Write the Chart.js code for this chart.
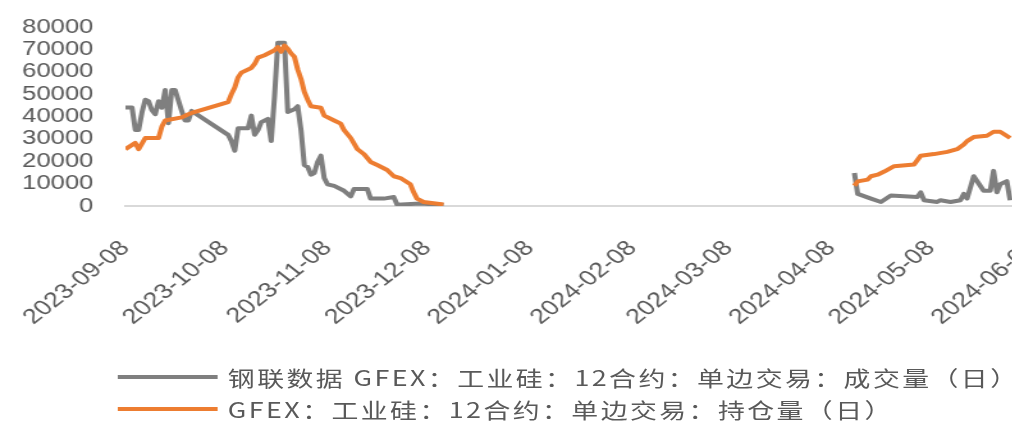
<!DOCTYPE html>
<html>
<head>
<meta charset="utf-8">
<script src="https://cdn.jsdelivr.net/npm/chart.js@4.4.1/dist/chart.umd.min.js"></script>
<style>
  html, body { margin: 0; padding: 0; background: #fff; }
  body { width: 1012px; height: 421px; overflow: hidden; position: relative; }
  #stage { position: absolute; left: 0; top: 0; width: 848px; height: 421px;
           transform: scaleX(1.28); transform-origin: 0 0; }
  #chart { position: absolute; left: 0; top: 0; }
  #legend { position: absolute; left: 92px; top: 361px;
            font-family: "Noto Sans CJK SC", sans-serif; font-size: 21px; letter-spacing: 1.9px; color: #595959; }
  .row { display: flex; align-items: center; height: 32px; white-space: nowrap; }
  .swatch { width: 78px; height: 4px; margin-right: 8px; }
</style>
</head>
<body>
<div id="stage">
  <canvas id="chart" width="848" height="336"></canvas>
  <div id="legend"></div>
</div>
<script>
// Series names
const seriesNames = [
  '钢联数据 GFEX：工业硅：12合约：单边交易：成交量（日）',
  'GFEX：工业硅：12合约：单边交易：持仓量（日）'
];
const seriesColors = ['#7f7f7f', '#ed7d31'];

// Date-axis labels
const tickLabels = ['2023-09-08', '2023-10-08', '2023-11-08', '2023-12-08', '2024-01-08',
                    '2024-02-08', '2024-03-08', '2024-04-08', '2024-05-08', '2024-06-08'];
const axisStart = '2023-09-08';
const axisEnd = '2024-06-16';

// Value-axis labels
const yTicks = [0, 10000, 20000, 30000, 40000, 50000, 60000, 70000, 80000];

// Daily volume (成交量)
const volumeDates = [
  '2023-09-08', '2023-09-10', '2023-09-11', '2023-09-12', '2023-09-13', '2023-09-14', '2023-09-15',
  '2023-09-16', '2023-09-17', '2023-09-18', '2023-09-19', '2023-09-20', '2023-09-21', '2023-09-22',
  '2023-09-23', '2023-09-25', '2023-09-26', '2023-09-27', '2023-09-28', '2023-10-09', '2023-10-10',
  '2023-10-11', '2023-10-12', '2023-10-15', '2023-10-16', '2023-10-17', '2023-10-18', '2023-10-19',
  '2023-10-21', '2023-10-22', '2023-10-23', '2023-10-24', '2023-10-26', '2023-10-27', '2023-10-29',
  '2023-10-30', '2023-10-31', '2023-11-01', '2023-11-02', '2023-11-03', '2023-11-04', '2023-11-05',
  '2023-11-06', '2023-11-07', '2023-11-08', '2023-11-10', '2023-11-13', '2023-11-15', '2023-11-16',
  '2023-11-20', '2023-11-21', '2023-11-25', '2023-11-28', '2023-11-29', '2023-12-06', '2023-12-13',
  '2024-02-01',
  '2024-04-15', '2024-04-16', '2024-04-20', '2024-04-23', '2024-04-26', '2024-05-04', '2024-05-05',
  '2024-05-06', '2024-05-10', '2024-05-11', '2024-05-14', '2024-05-17', '2024-05-18', '2024-05-19',
  '2024-05-21', '2024-05-24', '2024-05-26', '2024-05-27', '2024-05-28', '2024-05-29', '2024-05-31',
  '2024-06-01'
];
const volumeValues = [
  44000, 44000, 34000, 34000, 41800, 47500, 46800,
  42800, 41000, 46800, 43900, 51800, 37000, 51800,
  51800, 42500, 38200, 38200, 42500, 31800, 29000,
  24700, 34700, 34700, 40400, 31800, 33900, 37500,
  38900, 29000, 48900, 73000, 73000, 42000, 43200,
  44600, 33900, 18300, 17500, 14000, 14700, 19700,
  22500, 12500, 9700, 9000, 6800, 4300, 7600,
  7600, 3300, 3300, 4000, 600, 1100, 500,
  null,
  14700, 5400, 3300, 1800, 4700, 4000, 6100,
  2600, 1800, 2600, 1800, 2600, 5400, 3300,
  13300, 6800, 6800, 15700, 6100, 9700, 11100,
  2600
];

// Daily open interest (持仓量)
const oiDates = [
  '2023-09-08', '2023-09-11', '2023-09-12', '2023-09-14', '2023-09-18', '2023-09-19', '2023-09-20',
  '2023-09-25', '2023-09-27', '2023-09-28', '2023-10-09', '2023-10-10', '2023-10-11', '2023-10-12',
  '2023-10-13', '2023-10-16', '2023-10-17', '2023-10-18', '2023-10-20', '2023-10-23', '2023-10-24',
  '2023-10-25', '2023-10-26', '2023-10-27', '2023-10-28', '2023-10-29', '2023-10-30', '2023-10-31',
  '2023-11-01', '2023-11-02', '2023-11-03', '2023-11-06', '2023-11-07', '2023-11-10', '2023-11-12',
  '2023-11-13', '2023-11-15', '2023-11-17', '2023-11-19', '2023-11-21', '2023-11-23', '2023-11-26',
  '2023-11-28', '2023-11-30', '2023-12-03', '2023-12-04', '2023-12-05', '2023-12-07', '2023-12-13',
  '2024-02-01',
  '2024-04-15', '2024-04-16', '2024-04-19', '2024-04-20', '2024-04-22', '2024-04-24', '2024-04-27',
  '2024-05-03', '2024-05-05', '2024-05-09', '2024-05-13', '2024-05-16', '2024-05-18', '2024-05-19',
  '2024-05-21', '2024-05-25', '2024-05-27', '2024-05-29', '2024-06-01'
];
const oiValues = [
  25400, 28200, 25400, 30400, 30400, 35500, 38200,
  39600, 41000, 41600, 46400, 50000, 53000, 57500,
  59600, 61700, 63500, 66300, 67400, 69600, 71000,
  68900, 71700, 70300, 68200, 66700, 61000, 56800,
  51000, 47500, 44600, 43900, 40400, 38200, 36800,
  33900, 30400, 25400, 23200, 19700, 18300, 16100,
  13300, 12500, 9700, 6100, 3300, 1800, 700,
  null,
  9000, 11000, 11800, 13300, 14000, 15400, 17800,
  18500, 22500, 23200, 24200, 25400, 27500, 29000,
  30800, 31400, 33200, 33200, 30400
];

// Day offset from the first axis date
function dayOf(s) {
  const [y, m, d] = s.split('-').map(Number);
  const [y0, m0, d0] = axisStart.split('-').map(Number);
  return Math.round((Date.UTC(y, m - 1, d) - Date.UTC(y0, m0 - 1, d0)) / 86400000);
}
const toPoints = (dates, vals) => dates.map((d, i) => ({ x: dayOf(d), y: vals[i] }));
const tickDays = tickLabels.map(dayOf);

const lineStyle = { borderWidth: 4, pointRadius: 0, tension: 0, borderJoinStyle: 'round', borderCapStyle: 'butt', spanGaps: false };

new Chart(document.getElementById('chart'), {
  type: 'line',
  data: {
    datasets: [
      Object.assign({ label: seriesNames[0], data: toPoints(volumeDates, volumeValues),
        borderColor: seriesColors[0], order: 1 }, lineStyle),
      Object.assign({ label: seriesNames[1], data: toPoints(oiDates, oiValues),
        borderColor: seriesColors[1], order: 0 }, lineStyle)
    ]
  },
  options: {
    responsive: false,
    animation: false,
    devicePixelRatio: 1,
    layout: { padding: { top: 19, right: 20, bottom: 0, left: 0 } },
    plugins: { legend: { display: false }, tooltip: { enabled: false } },
    scales: {
      x: {
        type: 'linear',
        min: 0,
        max: dayOf(axisEnd),
        grid: { display: false },
        border: { display: true, color: '#d9d9d9', width: 2 },
        afterBuildTicks: (s) => { s.ticks = tickDays.map(v => ({ value: v })); },
        afterFit: (s) => { s.height = 130; },
        ticks: {
          autoSkip: false, minRotation: 45, maxRotation: 45, padding: 22,
          color: '#595959', font: { family: 'Liberation Sans', size: 21 },
          callback: (v) => { const i = tickDays.indexOf(v); return i >= 0 ? tickLabels[i] : ''; }
        }
      },
      y: {
        min: 0, max: 80000,
        grid: { display: false },
        border: { display: false },
        afterBuildTicks: (s) => { s.ticks = yTicks.map(v => ({ value: v })); },
        afterFit: (s) => { s.width = 93.75; },
        ticks: {
          autoSkip: false, padding: 17,
          color: '#595959', font: { family: 'Liberation Sans', size: 20, lineHeight: 1 },
          callback: (v) => String(v)
        }
      }
    }
  }
});

// Legend
const legend = document.getElementById('legend');
seriesNames.forEach((name, i) => {
  const row = document.createElement('div');
  row.className = 'row';
  const sw = document.createElement('span');
  sw.className = 'swatch';
  sw.style.background = seriesColors[i];
  const tx = document.createElement('span');
  tx.textContent = name;
  row.appendChild(sw);
  row.appendChild(tx);
  legend.appendChild(row);
});
</script>
</body>
</html>
